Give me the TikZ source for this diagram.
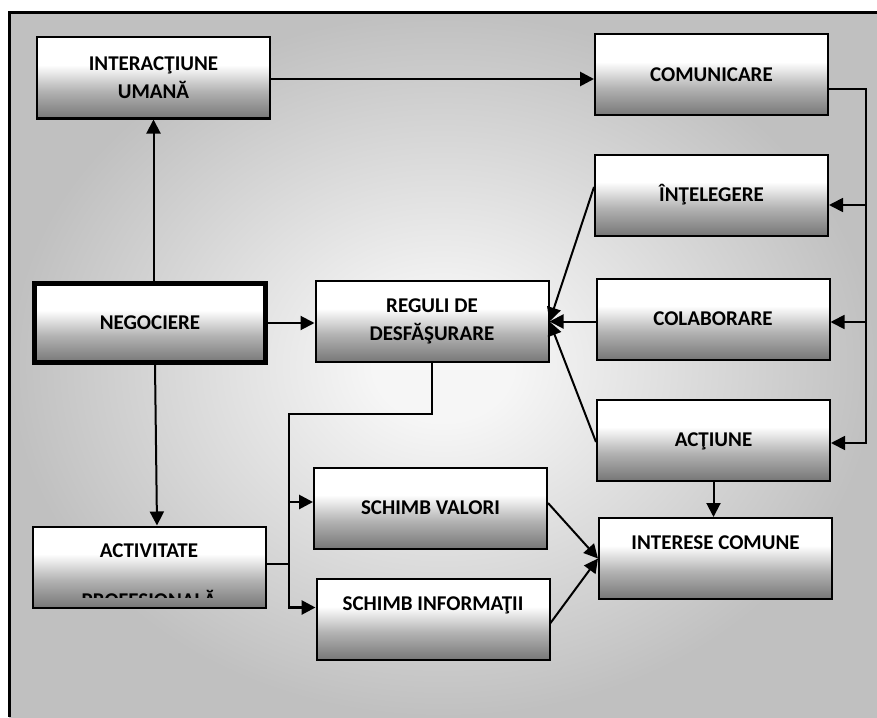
\documentclass[tikz,border=0pt]{standalone}
\usepackage{fontspec}
\setmainfont{Carlito}
\usetikzlibrary{calc,shapes,arrows.meta}

\definecolor{boxlo}{HTML}{777777}
\definecolor{boxmid}{HTML}{B3B3B3}
\definecolor{bgin}{HTML}{F6F6F6}
\definecolor{bgout}{HTML}{C0C0C0}
\pgfdeclareverticalshading{boxshade}{100bp}{color(0bp)=(boxlo); color(25bp)=(boxlo); color(42bp)=(boxmid); color(58bp)=(white); color(100bp)=(white)}
\pgfdeclareradialshading{backshade}{\pgfpoint{0bp}{0bp}}{color(0bp)=(bgin); color(4bp)=(bgin); color(25bp)=(bgout); color(50bp)=(bgout)}
\newcommand\boxfont{\bfseries\fontsize{10.5}{14}\selectfont}

\tikzset{
  box/.style={draw, line width=1pt, shading=boxshade, minimum width=116.5pt,
    minimum height=40.5pt, inner sep=0pt, font=\boxfont, align=center},
  midtext/.style={text height=23.65pt, text depth=16.85pt},
  toptext/.style={text height=15.5pt, text depth=25pt},
  conn/.style={line width=1pt, -{Triangle[length=7pt,width=7pt]}},
  thickconn/.style={conn, line width=1.4pt}
}

\begin{document}
\begin{tikzpicture}[x=0.5pt,y=-0.5pt]
  \useasboundingbox (0,0) rectangle (877,717);

  %% Background and frame
  \coordinate (FBL) at (9,717);
  \coordinate (FTL) at (9,12.5);
  \coordinate (FTR) at (877,12.5);
  \shade[shading=backshade] (FTL) rectangle (877,717);
  \draw[line width=1.5pt] (FBL) -- (FTL) -- (FTR);

  %% Boxes
  \node[box] (interact) at (153.5,78) {INTERACŢIUNE\\UMANĂ};
  \node[box, midtext] (comunic) at (711.5,75) {COMUNICARE};
  \node[box, midtext] (intel) at (711.5,195) {ÎNŢELEGERE};
  \node[box, midtext, line width=2.5pt, minimum width=115.5pt, minimum height=39.5pt,
        text height=23.15pt, text depth=16.35pt] (negoc) at (150,323) {NEGOCIERE};
  \node[box] (reguli) at (432,321.5) {REGULI DE\\DESFĂŞURARE};
  \node[box, midtext] (colab) at (713,319) {COLABORARE};
  \node[box, midtext] (actiune) at (713.5,440) {ACŢIUNE};
  \node[box, midtext] (schimbval) at (430.5,508) {SCHIMB VALORI};
  \node[box, toptext] (interese) at (715.5,558.5) {INTERESE COMUNE};
  \node[box, toptext] (activ) at (149,567) {ACTIVITATE};
  \node[box, toptext] (schimbinf) at (433,619.5) {SCHIMB INFORMAŢII};

  %% second line of ACTIVITATE, cut by the box
  \begin{scope}
    \clip (activ.north west) rectangle ([yshift=5.5pt]activ.south east);
    \node[font=\boxfont, inner sep=0pt, anchor=base] (actprof) at ([yshift=-41pt]activ.north) {PROFESIONALĂ};
  \end{scope}

  %% Negociere links
  \draw[conn] (negoc.north -| interact.south) -- (interact.south);
  \draw[conn] (negoc.east) -- (negoc.east -| reguli.west);
  \draw[conn] ([xshift=2.5pt]negoc.south) -- ([xshift=4pt]activ.north);
  \draw[thickconn] ([yshift=-0.5pt]interact.east) coordinate (intOut) -- (intOut -| comunic.west);

  %% Right bus from Comunicare
  \coordinate (busR) at (866,89);
  \path ([yshift=-5pt]intel.east) coordinate (intIn)
        ([yshift=-1.5pt]colab.east) coordinate (colIn)
        ([yshift=-1.5pt]actiune.east) coordinate (actIn);
  \draw[conn, line width=0.9pt] (comunic.east |- busR) -- (busR) |- (actIn);
  \draw[conn, line width=0.9pt] (intIn -| busR) -- (intIn);
  \draw[conn, line width=0.9pt] (colIn -| busR) -- (colIn);

  %% Into Reguli de desfasurare
  \draw[conn] ([yshift=4pt]intel.west) -- (reguli.east);
  \draw[conn] (colab.west |- reguli.east) -- (reguli.east);
  \draw[conn] ([yshift=-1pt]actiune.west) -- (reguli.east);

  %% Into Interese comune
  \draw[conn] (actiune.south) -- (actiune.south |- interese.north);
  \draw[conn] ([yshift=2.5pt]schimbval.east) -- (interese.west);
  \draw[conn] ([yshift=-1.75pt]schimbinf.east) -- (interese.west);

  %% Left bus from Reguli and Activitate
  \coordinate (busL) at (289,414);
  \path ([yshift=3pt]schimbval.west) coordinate (valIn)
        ([yshift=6pt]schimbinf.west) coordinate (infIn)
        ([yshift=1.5pt]activ.east) coordinate (actOut);
  \draw[thickconn] (reguli.south) |- (busL) |- (infIn);
  \draw[thickconn] (valIn -| busL) -- (valIn);
  \draw[line width=1.4pt] (actOut) -- (actOut -| busL);
\end{tikzpicture}
\end{document}
